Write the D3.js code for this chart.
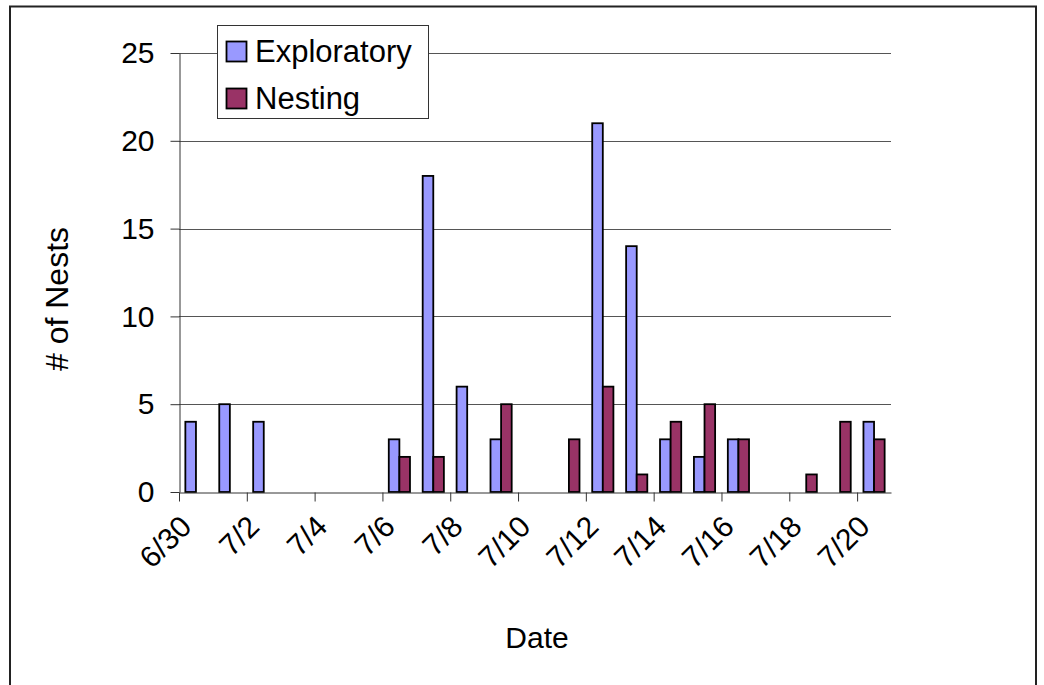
<!DOCTYPE html>
<html>
<head>
<meta charset="utf-8">
<script src="https://cdnjs.cloudflare.com/ajax/libs/d3/7.8.5/d3.min.js"></script>
<style>
  html, body { margin: 0; padding: 0; background: #fff; }
  svg { display: block; }
  text { font-family: Arial, "Liberation Sans", sans-serif; fill: #000; }
</style>
</head>
<body>
<svg id="chart" width="1044" height="685"></svg>
<script>
// ---- Data ----
const dates = ["6/30","7/1","7/2","7/3","7/4","7/5","7/6","7/7","7/8","7/9","7/10",
               "7/11","7/12","7/13","7/14","7/15","7/16","7/17","7/18","7/19","7/20"];
const exploratory = [4,5,4,0,0,0,3,18,6,3,0,0,21,14,3,2,3,0,0,0,4];
const nesting     = [0,0,0,0,0,0,2,2,0,5,0,3,6,1,4,5,3,0,1,4,3];
const seriesNames = ["Exploratory","Nesting"];
const seriesColors = ["#9999FF","#993366"];
const yTicks = [0,5,10,15,20,25];

// ---- Layout ----
const svg = d3.select("#chart");
const plotLeft = 179, plotRight = 891, plotTop = 53, plotBottom = 492;
const fontSize = 30;
const legendFont = 31;

// outer border
svg.append("rect")
  .attr("x", 10).attr("y", 6.5)
  .attr("width", 1026).attr("height", 720)
  .attr("fill", "none").attr("stroke", "#222").attr("stroke-width", 2);

const y = d3.scaleLinear().domain([0, 25]).range([plotBottom, plotTop]);
const xIdx = d3.scaleLinear().domain([0, dates.length]).range([plotLeft, plotRight]);
const xBand = d3.scaleBand().domain(dates).range([plotLeft, plotRight])
  .paddingInner(0.375).paddingOuter(0.1875);
const xSub = d3.scaleBand().domain(seriesNames).range([0, xBand.bandwidth()]);

// gridlines
svg.append("g")
  .selectAll("line")
  .data(yTicks.filter(t => t > 0))
  .join("line")
  .attr("x1", plotLeft).attr("x2", plotRight)
  .attr("y1", d => Math.round(y(d)) + 0.5).attr("y2", d => Math.round(y(d)) + 0.5)
  .attr("stroke", "#555").attr("stroke-width", 1);

// bars
const rows = dates.map((d, i) => ({date: d, vals: [exploratory[i], nesting[i]]}));
const groups = svg.append("g").selectAll("g")
  .data(rows).join("g")
  .attr("transform", d => `translate(${xBand(d.date)},0)`);
groups.selectAll("rect")
  .data(d => d.vals.map((v, k) => ({name: seriesNames[k], v, k})).filter(e => e.v > 0))
  .join("rect")
  .attr("x", e => xSub(e.name))
  .attr("width", xSub.bandwidth())
  .attr("y", e => y(e.v))
  .attr("height", e => y(0) - y(e.v))
  .attr("fill", e => seriesColors[e.k])
  .attr("stroke", "#000").attr("stroke-width", 1.8);

// y axis
const yAxis = svg.append("g")
  .attr("transform", `translate(${plotLeft + 0.5},0)`)
  .call(d3.axisLeft(y).tickValues(yTicks).tickSize(9).tickPadding(16).tickSizeOuter(0));
yAxis.select(".domain").attr("stroke", "#333");
yAxis.selectAll(".tick line").attr("stroke", "#333");
yAxis.selectAll(".tick text")
  .style("font-size", fontSize + "px")
  .style("font-family", "Arial, 'Liberation Sans', sans-serif")
  .attr("fill", "#000");

// x axis
const xAxis = svg.append("g")
  .attr("transform", `translate(0,${plotBottom + 0.5})`)
  .call(d3.axisBottom(xIdx)
    .tickValues(d3.range(0, dates.length, 2))
    .tickFormat(i => dates[i])
    .tickSize(9).tickSizeOuter(0));
xAxis.select(".domain").attr("stroke", "#333");
xAxis.selectAll(".tick line").attr("stroke", "#333");
xAxis.selectAll(".tick text")
  .style("font-size", fontSize + "px")
  .style("font-family", "Arial, 'Liberation Sans', sans-serif")
  .attr("fill", "#000")
  .attr("text-anchor", "end")
  .attr("y", 0).attr("dy", "0.7em")
  .attr("transform", "translate(-1,21) rotate(-45)");

// axis titles
svg.append("text")
  .attr("transform", "translate(68,299) rotate(-90)")
  .attr("text-anchor", "middle")
  .style("font-size", "32px")
  .text("# of Nests");
svg.append("text")
  .attr("x", 537).attr("y", 648)
  .attr("text-anchor", "middle")
  .style("font-size", fontSize + "px")
  .text("Date");

// legend
const lg = svg.append("g");
lg.append("rect")
  .attr("x", 217.5).attr("y", 25.5).attr("width", 211).attr("height", 93)
  .attr("fill", "#fff").attr("stroke", "#333").attr("stroke-width", 1);
const items = lg.selectAll("g.item").data(seriesNames).join("g")
  .attr("class", "item")
  .attr("transform", (d, i) => `translate(226,${51 + i * 47})`);
items.append("rect")
  .attr("x", 0.5).attr("y", -9.5).attr("width", 20).attr("height", 20)
  .attr("fill", (d, i) => seriesColors[i])
  .attr("stroke", "#000").attr("stroke-width", 1.8);
items.append("text")
  .attr("x", 29).attr("y", 0).attr("dy", "0.35em")
  .style("font-size", legendFont + "px")
  .text(d => d);
</script>
</body>
</html>
